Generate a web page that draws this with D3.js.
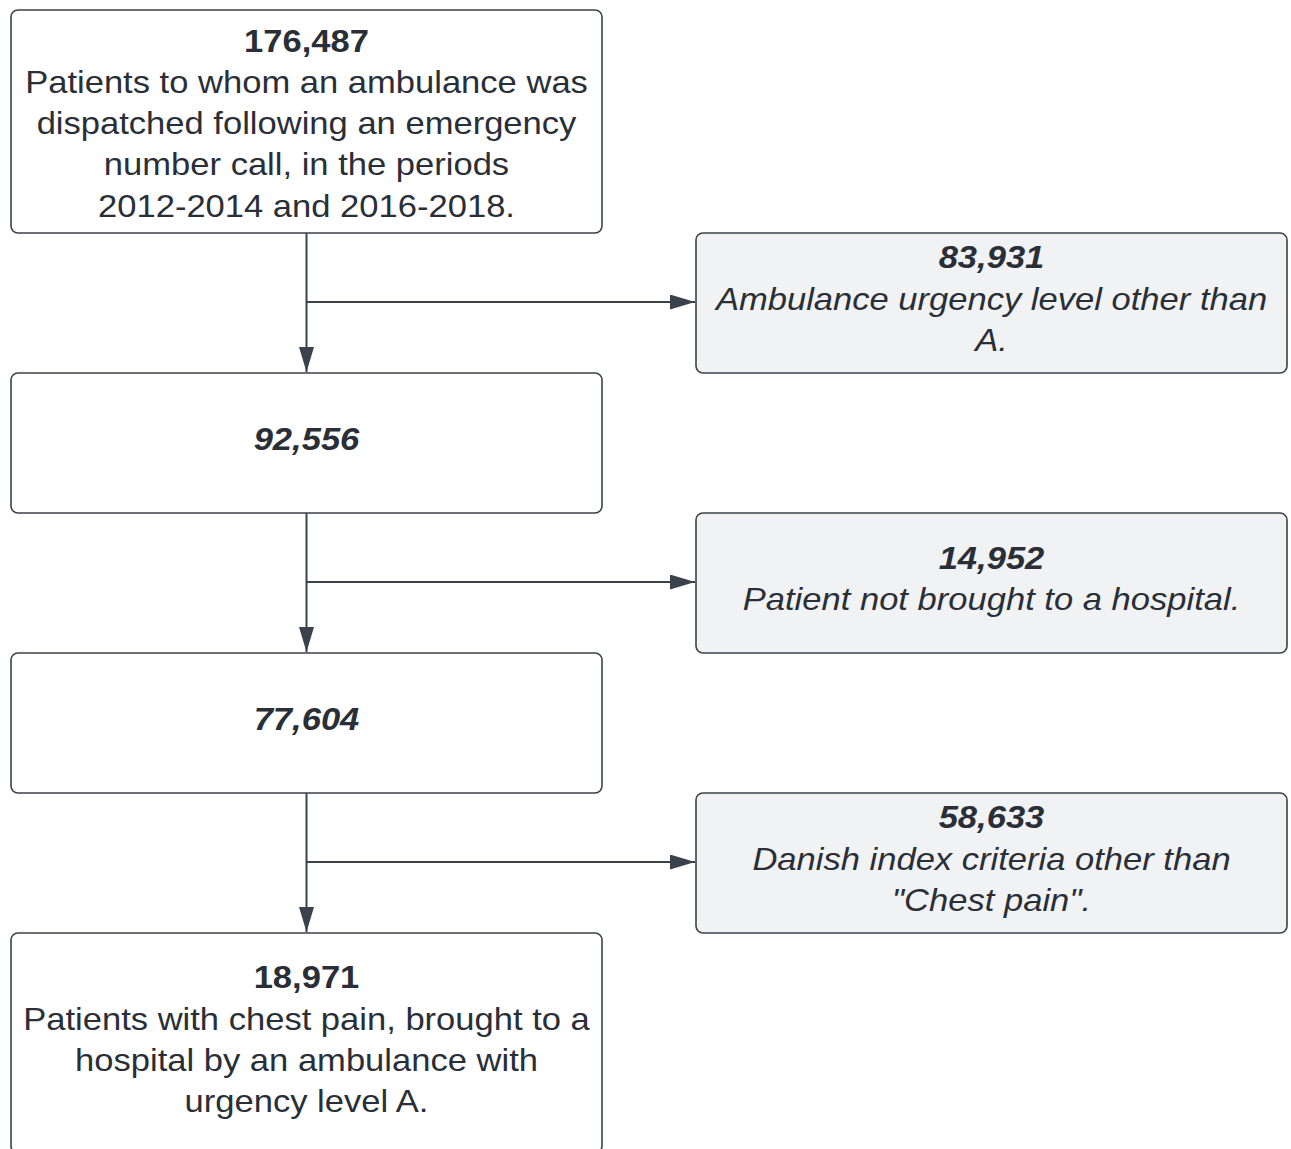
<!DOCTYPE html>
<html>
<head>
<meta charset="utf-8">
<script src="https://cdn.jsdelivr.net/npm/d3@7"></script>
<style>
  body { margin: 0; background: #fff; }
  .box text { font-family: "Liberation Sans", Arial, sans-serif; fill: #2a2f37; }
</style>
</head>
<body>
<div id="flow"></div>
<script>
// flowchart of patient selection

const FRAME_WIDTH = 1291;
const FRAME_HEIGHT = 1149;

// main column counts and texts
const MAIN_COUNTS = [176487, 92556, 77604, 18971];
const MAIN_LABELS = [
	["Patients to whom an ambulance was", "dispatched following an emergency", "number call, in the periods", "2012-2014 and 2016-2018."],
	[],
	[],
	["Patients with chest pain, brought to a", "hospital by an ambulance with", "urgency level A."]
];
const MAIN_ITALIC = [false, true, true, false];

// excluded counts and texts
const EXCL_COUNTS = [83931, 14952, 58633];
const EXCL_LABELS = [
	["Ambulance urgency level other than", "A."],
	["Patient not brought to a hospital."],
	["Danish index criteria other than", "\"Chest pain\"."]
];

// layout
const MAIN_X = 11, MAIN_W = 591;
const SIDE_X = 696, SIDE_W = 591;
const ROW_H = 140, FIRST_H = 223, TOP = 10;
const LINE_H = 41.3;
const FONT = 32;
const STRETCH = 1.08;
const STROKE = "#3b424b";

const fmt = d3.format(",");

const svg = d3.select("#flow")
	.append("svg")
		.attr("width", FRAME_WIDTH)
		.attr("height", FRAME_HEIGHT);

svg.append("defs").append("marker")
		.attr("id", "arrow")
		.attr("viewBox", "0 0 25 15")
		.attr("refX", 25)
		.attr("refY", 7.5)
		.attr("markerWidth", 25)
		.attr("markerHeight", 15)
		.attr("markerUnits", "userSpaceOnUse")
		.attr("orient", "auto")
	.append("path")
		.attr("d", "M0,0 L25,7.5 L0,15 Z")
		.attr("fill", STROKE);

// main box top positions: first box is taller, then step of 2 rows
const mainY = MAIN_COUNTS.map((d, i) => i == 0 ? TOP : TOP + FIRST_H + ROW_H + (i - 1) * 2 * ROW_H);
const mainH = MAIN_COUNTS.map((d, i) => i == 0 ? FIRST_H : (i == MAIN_COUNTS.length - 1 ? FRAME_HEIGHT + 4 - mainY[i] : ROW_H));
const sideY = EXCL_COUNTS.map((d, i) => mainY[i] + mainH[i]);

const mainData = MAIN_COUNTS.map((c, i) => ({
	x: MAIN_X, y: mainY[i], w: MAIN_W, h: mainH[i], shift: i == 0 ? 1.5 : -4,
	title: fmt(c), lines: MAIN_LABELS[i], italic: MAIN_ITALIC[i], fill: "#ffffff"
}));
const sideData = EXCL_COUNTS.map((c, i) => ({
	x: SIDE_X, y: sideY[i], w: SIDE_W, h: ROW_H, shift: -4.5,
	title: fmt(c), lines: EXCL_LABELS[i], italic: true, fill: "#f1f2f4"
}));

// connectors
const cx = MAIN_X + MAIN_W / 2;
EXCL_COUNTS.forEach((d, i) => {
	svg.append("line")
		.attr("x1", cx).attr("y1", sideY[i])
		.attr("x2", cx).attr("y2", mainY[i + 1] - 1)
		.attr("stroke", STROKE).attr("stroke-width", 2)
		.attr("marker-end", "url(#arrow)");
	svg.append("line")
		.attr("x1", cx).attr("y1", sideY[i] + ROW_H / 2 - 1)
		.attr("x2", SIDE_X - 1).attr("y2", sideY[i] + ROW_H / 2 - 1)
		.attr("stroke", STROKE).attr("stroke-width", 2)
		.attr("marker-end", "url(#arrow)");
});

const boxes = svg.selectAll(".box")
	.data(mainData.concat(sideData))
	.enter()
	.append("g")
		.attr("class", "box")
		.attr("transform", (d) => "translate(" + d.x + "," + d.y + ")");

boxes.append("rect")
	.attr("width", (d) => d.w)
	.attr("height", (d) => d.h)
	.attr("rx", 7)
	.attr("fill", (d) => d.fill)
	.attr("stroke", STROKE)
	.attr("stroke-width", 1.6);

boxes.each(function(d) {
	const g = d3.select(this);
	const all = [d.title].concat(d.lines);
	const n = all.length;
	const mid = d.h / 2 + d.shift;
	// text is drawn slightly wider than the font, like the source
	const tg = g.append("g")
		.attr("transform", "translate(" + (d.w / 2) + ",0) scale(" + STRETCH + ",1)");
	all.forEach((t, j) => {
		tg.append("text")
			.attr("x", 0)
			.attr("y", mid + (j - (n - 1) / 2) * LINE_H)
			.attr("dy", "0.35em")
			.attr("text-anchor", "middle")
			.attr("font-size", FONT)
			.attr("font-weight", j == 0 ? "bold" : "normal")
			.attr("font-style", d.italic ? "italic" : "normal")
			.text(t);
	});
});
</script>
</body>
</html>
